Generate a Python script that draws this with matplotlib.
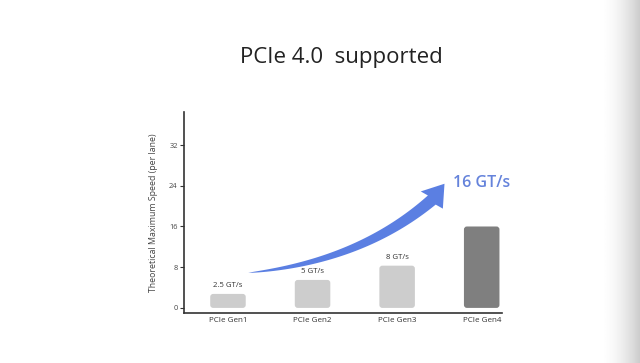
import numpy as np
import matplotlib.pyplot as plt
from matplotlib.patches import FancyBboxPatch, Polygon

plt.rcParams['font.family'] = ['Open Sans', 'DejaVu Sans']

# data
gens = ['PCIe Gen1', 'PCIe Gen2', 'PCIe Gen3', 'PCIe Gen4']
speeds = [2.75, 5.5, 8.3, 16]
labels = ['2.5 GT/s', '5 GT/s', '8 GT/s', '']
colors = ['#cdcdcd', '#cdcdcd', '#cdcdcd', '#7f7f7f']
yticks = [0, 8, 16, 24, 32]

fig = plt.figure(figsize=(6.4, 3.63), dpi=100)
ax = fig.add_axes([184/640, 50/363, 318/640, 201/363])

ax.set_xlim(-0.52, 3.24)
ax.set_ylim(-1.0, 38.5)

width = 0.42
px_x = 85.0   # pixels per x unit
px_y = 5.09   # pixels per y unit
for i, (v, c) in enumerate(zip(speeds, colors)):
    p = FancyBboxPatch((i - width/2, 0), width, v,
                       boxstyle='round,pad=0,rounding_size=0.035',
                       mutation_aspect=px_x/px_y,
                       fc=c, ec='none')
    ax.add_patch(p)
    if labels[i]:
        ax.text(i, v + 1.0, labels[i], ha='center', va='bottom',
                fontsize=5.6, color='#333333')

ax.set_xticks(range(len(gens)))
ax.set_xticklabels(gens, fontsize=5.8, color='#333333')
ax.tick_params(axis='x', length=0, pad=3)
ax.set_yticks(yticks)
ax.set_yticklabels([str(t) for t in yticks], fontsize=5.4, color='#444444')
ax.tick_params(axis='y', length=3, width=0.8, pad=1.5, color='#333333')
ax.set_ylabel('Theoretical Maximum Speed (per lane)', fontsize=6.3,
              color='#444444', labelpad=8)

for s in ['top', 'right']:
    ax.spines[s].set_visible(False)
for s in ['left', 'bottom']:
    ax.spines[s].set_color('#333333')
    ax.spines[s].set_linewidth(1.2)

# curved tapering arrow, built in display space
start = (0.24, 6.9)
ctrl = (1.55, 9.0)
base = (2.41, 21.2)
tip = (2.56, 24.4)
T = ax.transData
P0, C, P2, TP = [T.transform(p) for p in (start, ctrl, base, tip)]
t = np.linspace(0, 1, 60)[:, None]
curve = (1-t)**2 * P0 + 2*t*(1-t) * C + t**2 * P2
d = 2*(1-t)*(C - P0) + 2*t*(P2 - C)
d = d / np.linalg.norm(d, axis=1)[:, None]
n = np.column_stack([-d[:, 1], d[:, 0]])
hw = 6.0 * t[:, 0]**0.7
upper = curve + n * hw[:, None]
lower = curve - n * hw[:, None]
hd = (TP - P2) / np.linalg.norm(TP - P2)
hn = np.array([-hd[1], hd[0]])
barb1 = P2 + hn * 14
barb2 = P2 - hn * 14
pts = np.vstack([upper, [barb1, TP, barb2], lower[::-1]])
pts = T.inverted().transform(pts)
ax.add_patch(Polygon(pts, closed=True, fc='#5b7fe2', ec='none', zorder=3))

ax.text(2.66, 24.6, '16 GT/s', fontsize=11.5, fontweight='semibold',
        color='#6583db', ha='left', va='center')

fig.text(341/640, 1 - 58/363, 'PCIe 4.0  supported', fontsize=16,
         color='#222222', ha='center', va='center')

# grey shading on right edge
gax = fig.add_axes([600/640, 0, 40/640, 1])
g = np.linspace(0, 1, 200) ** 1.8
gax.imshow(1 - 0.2 * g[None, :], cmap='gray', vmin=0, vmax=1,
           aspect='auto', extent=[0, 1, 0, 1])
gax.axis('off')

plt.savefig('out.png', dpi=100)
